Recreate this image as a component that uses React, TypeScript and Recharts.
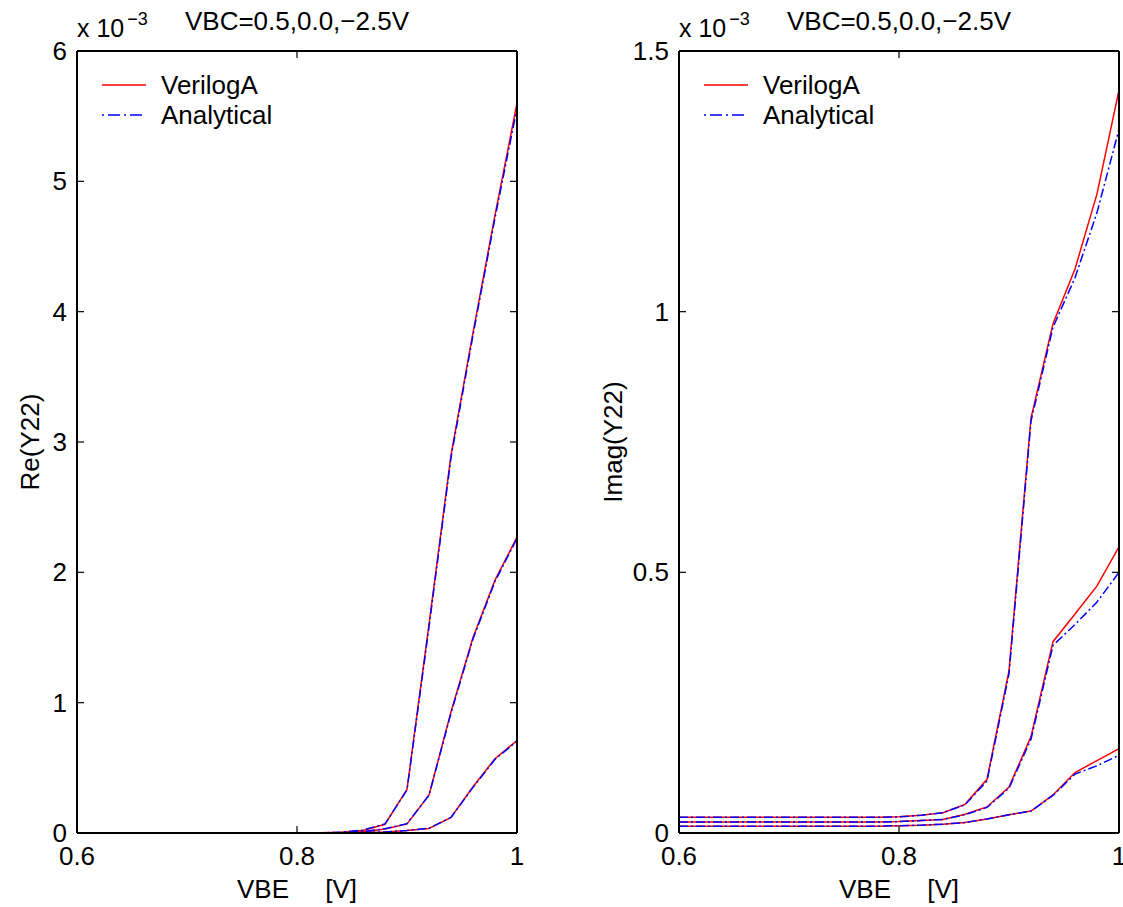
import { LineChart, Line, XAxis, YAxis, Legend } from 'recharts';

// VBE sweep [V]
const vbe = [0.6, 0.62, 0.64, 0.66, 0.68, 0.7, 0.72, 0.74, 0.76, 0.78, 0.8, 0.82, 0.84, 0.86, 0.88, 0.9, 0.92, 0.94, 0.96, 0.98, 1.0];

// Re(Y22), units of 1e-3, VBC = 0.5 / 0.0 / -2.5 V
const reVerilogA05 = [0, 0, 0, 0, 0, 0, 0, 0, 0, 0, 0, 0.001, 0.005, 0.02, 0.067, 0.335, 1.6, 2.9, 3.84, 4.74, 5.6];
const reAnalytical05 = [0, 0, 0, 0, 0, 0, 0, 0, 0, 0, 0, 0.001, 0.006, 0.022, 0.07, 0.33, 1.58, 2.88, 3.82, 4.72, 5.56];
const reVerilogA00 = [0, 0, 0, 0, 0, 0, 0, 0, 0, 0, 0, 0, 0.002, 0.01, 0.03, 0.07, 0.29, 0.93, 1.5, 1.94, 2.27];
const reAnalytical00 = [0, 0, 0, 0, 0, 0, 0, 0, 0, 0, 0, 0, 0.002, 0.011, 0.032, 0.072, 0.29, 0.92, 1.49, 1.93, 2.26];
const reVerilogAm25 = [0, 0, 0, 0, 0, 0, 0, 0, 0, 0, 0, 0, 0.001, 0.003, 0.008, 0.02, 0.035, 0.12, 0.355, 0.57, 0.71];
const reAnalyticalm25 = [0, 0, 0, 0, 0, 0, 0, 0, 0, 0, 0, 0, 0.001, 0.003, 0.008, 0.02, 0.036, 0.12, 0.35, 0.565, 0.705];

// Imag(Y22), units of 1e-3
const imVerilogA05 = [0.03, 0.03, 0.03, 0.03, 0.03, 0.03, 0.03, 0.03, 0.03, 0.03, 0.031, 0.034, 0.039, 0.055, 0.103, 0.311, 0.796, 0.977, 1.082, 1.226, 1.425];
const imAnalytical05 = [0.03, 0.03, 0.03, 0.03, 0.03, 0.03, 0.03, 0.03, 0.03, 0.03, 0.031, 0.034, 0.039, 0.054, 0.1, 0.305, 0.79, 0.97, 1.065, 1.19, 1.35];
const imVerilogA00 = [0.021, 0.021, 0.021, 0.021, 0.021, 0.021, 0.021, 0.021, 0.021, 0.021, 0.022, 0.024, 0.026, 0.036, 0.05, 0.088, 0.185, 0.367, 0.42, 0.474, 0.549];
const imAnalytical00 = [0.021, 0.021, 0.021, 0.021, 0.021, 0.021, 0.021, 0.021, 0.021, 0.021, 0.022, 0.024, 0.026, 0.035, 0.049, 0.086, 0.18, 0.36, 0.4, 0.443, 0.5];
const imVerilogAm25 = [0.013, 0.013, 0.013, 0.013, 0.013, 0.013, 0.013, 0.013, 0.013, 0.013, 0.014, 0.015, 0.017, 0.02, 0.027, 0.035, 0.042, 0.073, 0.116, 0.139, 0.162];
const imAnalyticalm25 = [0.013, 0.013, 0.013, 0.013, 0.013, 0.013, 0.013, 0.013, 0.013, 0.013, 0.014, 0.015, 0.017, 0.02, 0.027, 0.035, 0.042, 0.072, 0.113, 0.129, 0.149];

const xTicks = [0.6, 0.8, 1];
const reTicks = [0, 1, 2, 3, 4, 5, 6];
const imTicks = [0, 0.5, 1, 1.5];

const title = 'VBC=0.5,0.0,\u22122.5V';

const reData = vbe.map((v, i) => ({
  vbe: v,
  v05: reVerilogA05[i], a05: reAnalytical05[i],
  v00: reVerilogA00[i], a00: reAnalytical00[i],
  vm25: reVerilogAm25[i], am25: reAnalyticalm25[i],
}));

const imData = vbe.map((v, i) => ({
  vbe: v,
  v05: imVerilogA05[i], a05: imAnalytical05[i],
  v00: imVerilogA00[i], a00: imAnalytical00[i],
  vm25: imVerilogAm25[i], am25: imAnalyticalm25[i],
}));

const FONT = '"Liberation Sans", Arial, Helvetica, sans-serif';
const RED = '#ff0000';
const BLUE = '#0000ff';
const DASHDOT = '9 3 2 3';
const TICK = 7;

// axes get 1px of room so recharts draws them
const LeftTick = ({ x, y, payload }: any) => (
  <g>
    <text x={x - 10} y={y} dy={9} textAnchor="end" fontSize={26} fill="#000">{String(payload.value)}</text>
    <line x1={x} x2={x + TICK} y1={y} y2={y} stroke="#000" strokeWidth={1.2} />
  </g>
);
const RightTick = ({ x, y }: any) => (
  <line x1={x - TICK} x2={x} y1={y} y2={y} stroke="#000" strokeWidth={1.2} />
);
const BottomTick = ({ x, y, payload }: any) => (
  <g>
    <text x={x} y={y + 32} textAnchor="middle" fontSize={26} fill="#000">{String(payload.value)}</text>
    <line x1={x} x2={x} y1={y - TICK} y2={y} stroke="#000" strokeWidth={1.2} />
  </g>
);
const TopTick = ({ x, y }: any) => (
  <line x1={x} x2={x} y1={y} y2={y + TICK} stroke="#000" strokeWidth={1.2} />
);

const LegendBox = () => (
  <div style={{ fontFamily: FONT, fontSize: 26, color: '#000', lineHeight: '30px' }}>
    <div style={{ display: 'flex', alignItems: 'center', height: 30 }}>
      <svg width={44} height={6}><line x1={0} x2={44} y1={3} y2={3} stroke={RED} strokeWidth={1.5} /></svg>
      <span style={{ marginLeft: 15 }}>VerilogA</span>
    </div>
    <div style={{ display: 'flex', alignItems: 'center', height: 30 }}>
      <svg width={44} height={6}><line x1={0} x2={44} y1={3} y2={3} stroke={BLUE} strokeWidth={1.5} strokeDasharray="2 4 12 4" /></svg>
      <span style={{ marginLeft: 15 }}>Analytical</span>
    </div>
  </div>
);

type PanelProps = {
  left: number;
  width: number;
  plotLeft: number;
  data: any[];
  yDomain: [number, number];
  yTicks: number[];
  yLabel: string;
  yLabelGap: number;
};

const Panel = ({ left, width, plotLeft, data, yDomain, yTicks, yLabel, yLabelGap }: PanelProps) => {
  const plotWidth = 440;
  const plotTop = 51;
  const center = plotLeft + plotWidth / 2;
  return (
    <div style={{ position: 'absolute', left, top: 0, width, height: 907 }}>
      <LineChart
        width={width} height={907} data={data}
        margin={{ top: plotTop - 1, right: width - plotLeft - plotWidth - 1, bottom: 0, left: plotLeft - 1 }}
        style={{ overflow: 'visible' }}
      >
        <XAxis
          dataKey="vbe" type="number" domain={[0.6, 1]} ticks={xTicks} allowDataOverflow
          height={74} tickSize={0} tickMargin={0} tickLine={false}
          axisLine={{ stroke: '#000', strokeWidth: 2 }} tick={<BottomTick />}
          label={{
            content: (p: any) => {
              const vb = p.viewBox || { x: plotLeft, y: 833, width: plotWidth };
              return (
                <text x={vb.x + vb.width / 2} y={vb.y + 65} textAnchor="middle" fontSize={26} fill="#000" style={{ whiteSpace: 'pre' }}>
                  {'VBE     [V]'}
                </text>
              );
            },
          }}
        />
        <XAxis
          xAxisId="top" orientation="top" dataKey="vbe" type="number" domain={[0.6, 1]} ticks={xTicks} allowDataOverflow
          height={1} tickSize={0} tickMargin={0} tickLine={false}
          axisLine={{ stroke: '#000', strokeWidth: 2 }} tick={<TopTick />}
        />
        <YAxis
          type="number" domain={yDomain} ticks={yTicks} allowDataOverflow
          width={1} tickSize={0} tickMargin={0} tickLine={false}
          axisLine={{ stroke: '#000', strokeWidth: 2 }} tick={<LeftTick />}
          label={{
            content: (p: any) => {
              const vb = p.viewBox || { x: plotLeft - 1, y: plotTop, height: 782 };
              const cx = vb.x + 1 - yLabelGap;
              const cy = vb.y + vb.height / 2;
              return (
                <text transform={`translate(${cx}, ${cy}) rotate(-90)`} textAnchor="middle" fontSize={26} fill="#000">
                  {yLabel}
                </text>
              );
            },
          }}
        />
        <YAxis
          yAxisId="right" orientation="right" type="number" domain={yDomain} ticks={yTicks} allowDataOverflow
          width={1} tickSize={0} tickMargin={0} tickLine={false}
          axisLine={{ stroke: '#000', strokeWidth: 2 }} tick={<RightTick />}
        />
        <Legend
          layout="horizontal" verticalAlign="middle" align="center"
          content={<LegendBox />}
          wrapperStyle={{ left: plotLeft + 25, top: 70, width: 'auto', height: 'auto' }}
        />
        <Line type="linear" dataKey="v05" stroke={RED} strokeWidth={1.5} dot={false} activeDot={false} isAnimationActive={false} />
        <Line type="linear" dataKey="v00" stroke={RED} strokeWidth={1.5} dot={false} activeDot={false} isAnimationActive={false} />
        <Line type="linear" dataKey="vm25" stroke={RED} strokeWidth={1.5} dot={false} activeDot={false} isAnimationActive={false} />
        <Line type="linear" dataKey="a05" stroke={BLUE} strokeWidth={1.5} strokeDasharray={DASHDOT} dot={false} activeDot={false} isAnimationActive={false} />
        <Line type="linear" dataKey="a00" stroke={BLUE} strokeWidth={1.5} strokeDasharray={DASHDOT} dot={false} activeDot={false} isAnimationActive={false} />
        <Line type="linear" dataKey="am25" stroke={BLUE} strokeWidth={1.5} strokeDasharray={DASHDOT} dot={false} activeDot={false} isAnimationActive={false} />
      </LineChart>
      <div style={{ position: 'absolute', left: plotLeft, top: 16, fontSize: 25, lineHeight: '25px', whiteSpace: 'nowrap' }}>
        x 10<span style={{ fontSize: 18, position: 'relative', top: -12, marginLeft: 3 }}>{'\u22123'}</span>
      </div>
      <div style={{ position: 'absolute', left: center - 200, width: 400, top: 8, fontSize: 26, lineHeight: '26px', textAlign: 'center', whiteSpace: 'nowrap' }}>
        {title}
      </div>
    </div>
  );
};

export default function App() {
  return (
    <div style={{ position: 'absolute', left: 0, top: 0, width: 1123, height: 907, background: '#fff', fontFamily: FONT, color: '#000', overflow: 'hidden' }}>
      <Panel left={0} width={560} plotLeft={77} data={reData} yDomain={[0, 6]} yTicks={reTicks} yLabel="Re(Y22)" yLabelGap={38} />
      <Panel left={560} width={563} plotLeft={119} data={imData} yDomain={[0, 1.5]} yTicks={imTicks} yLabel="Imag(Y22)" yLabelGap={57} />
    </div>
  );
}
